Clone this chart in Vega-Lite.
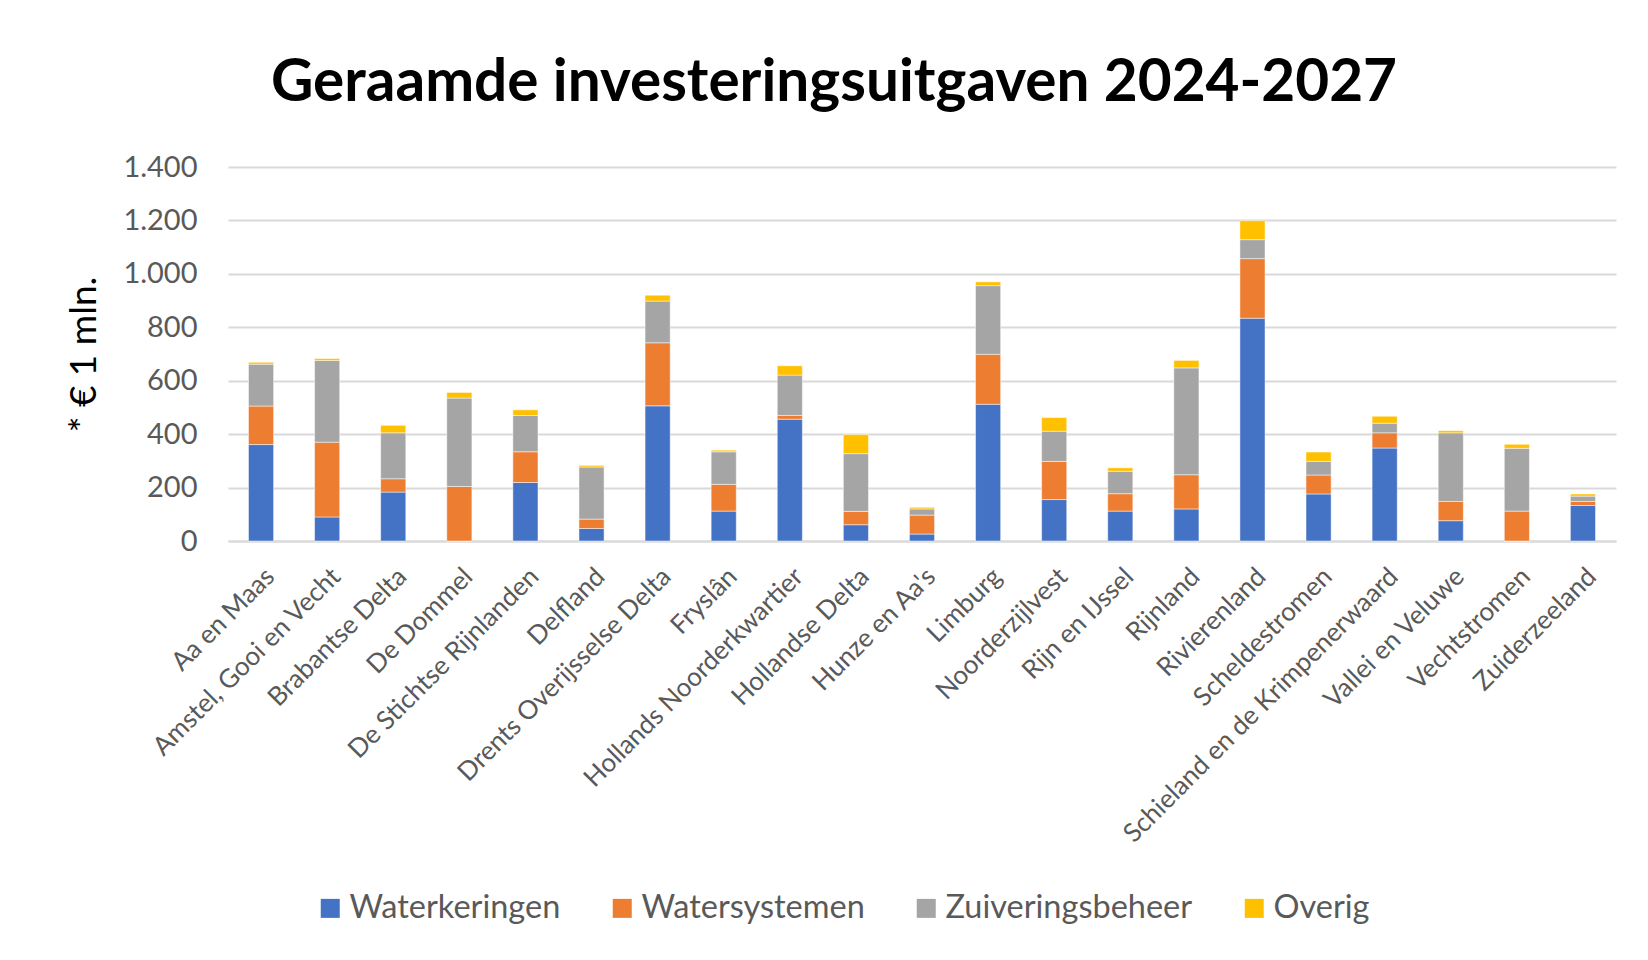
{
  "$schema": "https://vega.github.io/schema/vega-lite/v6.json",
  "autosize": "none",
  "width": 1388,
  "height": 374,
  "padding": {"left": 228, "top": 167, "right": 32, "bottom": 419},
  "background": "white",
  "title": {
    "text": "Geraamde investeringsuitgaven 2024-2027",
    "font": "Lato",
    "fontSize": 58.5,
    "fontWeight": "bold",
    "color": "#000000",
    "anchor": "middle",
    "dx": -88,
    "offset": 40
  },
  "data": {
    "values": [
      {"ws": "Aa en Maas", "Waterkeringen": 361, "Watersystemen": 144, "Zuiveringsbeheer": 157, "Overig": 7},
      {"ws": "Amstel, Gooi en Vecht", "Waterkeringen": 90, "Watersystemen": 280, "Zuiveringsbeheer": 306, "Overig": 7},
      {"ws": "Brabantse Delta", "Waterkeringen": 183, "Watersystemen": 50, "Zuiveringsbeheer": 172, "Overig": 28},
      {"ws": "De Dommel", "Waterkeringen": 0, "Watersystemen": 204, "Zuiveringsbeheer": 331, "Overig": 21},
      {"ws": "De Stichtse Rijnlanden", "Waterkeringen": 219, "Watersystemen": 115, "Zuiveringsbeheer": 136, "Overig": 21},
      {"ws": "Delfland", "Waterkeringen": 47, "Watersystemen": 35, "Zuiveringsbeheer": 195, "Overig": 6},
      {"ws": "Drents Overijsselse Delta", "Waterkeringen": 506, "Watersystemen": 236, "Zuiveringsbeheer": 156, "Overig": 22},
      {"ws": "Fryslân", "Waterkeringen": 112, "Watersystemen": 100, "Zuiveringsbeheer": 122, "Overig": 6},
      {"ws": "Hollands Noorderkwartier", "Waterkeringen": 456, "Watersystemen": 14, "Zuiveringsbeheer": 151, "Overig": 35},
      {"ws": "Hollandse Delta", "Waterkeringen": 61, "Watersystemen": 50, "Zuiveringsbeheer": 216, "Overig": 71},
      {"ws": "Hunze en Aa's", "Waterkeringen": 26, "Watersystemen": 71, "Zuiveringsbeheer": 23, "Overig": 6},
      {"ws": "Limburg", "Waterkeringen": 512, "Watersystemen": 187, "Zuiveringsbeheer": 257, "Overig": 14},
      {"ws": "Noorderzijlvest", "Waterkeringen": 155, "Watersystemen": 143, "Zuiveringsbeheer": 113, "Overig": 51},
      {"ws": "Rijn en IJssel", "Waterkeringen": 112, "Watersystemen": 65, "Zuiveringsbeheer": 84, "Overig": 13},
      {"ws": "Rijnland", "Waterkeringen": 120, "Watersystemen": 128, "Zuiveringsbeheer": 400, "Overig": 28},
      {"ws": "Rivierenland", "Waterkeringen": 834, "Watersystemen": 223, "Zuiveringsbeheer": 71, "Overig": 71},
      {"ws": "Scheldestromen", "Waterkeringen": 176, "Watersystemen": 71, "Zuiveringsbeheer": 51, "Overig": 35},
      {"ws": "Schieland en de Krimpenerwaard", "Waterkeringen": 348, "Watersystemen": 57, "Zuiveringsbeheer": 36, "Overig": 26},
      {"ws": "Vallei en Veluwe", "Waterkeringen": 76, "Watersystemen": 72, "Zuiveringsbeheer": 257, "Overig": 8},
      {"ws": "Vechtstromen", "Waterkeringen": 0, "Watersystemen": 112, "Zuiveringsbeheer": 235, "Overig": 15},
      {"ws": "Zuiderzeeland", "Waterkeringen": 133, "Watersystemen": 15, "Zuiveringsbeheer": 20, "Overig": 8}
    ]
  },
  "transform": [
    {"fold": ["Waterkeringen", "Watersystemen", "Zuiveringsbeheer", "Overig"], "as": ["cat", "value"]},
    {"calculate": "indexof(['Waterkeringen','Watersystemen','Zuiveringsbeheer','Overig'], datum.cat)", "as": "catOrder"}
  ],
  "mark": {"type": "bar", "stroke": "white", "strokeWidth": 0.8, "strokeOpacity": 0.6},
  "encoding": {
    "x": {
      "field": "ws",
      "type": "nominal",
      "sort": null,
      "scale": {"paddingInner": 0.62, "paddingOuter": 0.31},
      "axis": {
        "title": null,
        "labelAngle": -45,
        "labelFont": "Lato",
        "labelFontSize": 26,
        "labelColor": "#595959",
        "labelPadding": 22,
        "labelLimit": 0,
        "labelOverlap": false,
        "ticks": false,
        "domain": true,
        "domainColor": "#D9D9D9",
        "domainWidth": 2,
        "grid": false
      }
    },
    "y": {
      "field": "value",
      "type": "quantitative",
      "stack": "zero",
      "scale": {"domain": [0, 1400], "nice": false},
      "axis": {
        "title": "* € 1 mln.",
        "titleFont": "Lato",
        "titleFontSize": 37,
        "titleFontWeight": "normal",
        "titleColor": "#000000",
        "titleX": -144,
        "titleY": 187,
        "titleAngle": -90,
        "titleBaseline": "middle",
        "titleAlign": "center",
        "values": [0, 200, 400, 600, 800, 1000, 1200, 1400],
        "labelExpr": "replace(format(datum.value, ','), ',', '.')",
        "labelFont": "Lato",
        "labelFontSize": 29,
        "labelColor": "#595959",
        "labelPadding": 31,
        "ticks": false,
        "domain": false,
        "grid": true,
        "gridColor": "#D9D9D9",
        "gridWidth": 2
      }
    },
    "color": {
      "field": "cat",
      "type": "nominal",
      "sort": ["Waterkeringen", "Watersystemen", "Zuiveringsbeheer", "Overig"],
      "scale": {
        "domain": ["Waterkeringen", "Watersystemen", "Zuiveringsbeheer", "Overig"],
        "range": ["#4472C4", "#ED7D31", "#A5A5A5", "#FFC000"]
      },
      "legend": {
        "title": null,
        "orient": "none",
        "direction": "horizontal",
        "legendX": 86,
        "legendY": 725,
        "symbolType": "square",
        "symbolSize": 361,
        "symbolStrokeWidth": 0,
        "labelFont": "Lato",
        "labelFontSize": 32.5,
        "labelColor": "#595959",
        "labelOffset": 3,
        "labelLimit": 0,
        "columnPadding": 45
      }
    },
    "order": {"field": "catOrder", "type": "quantitative", "sort": "ascending"}
  },
  "config": {
    "view": {"stroke": null}
  }
}
